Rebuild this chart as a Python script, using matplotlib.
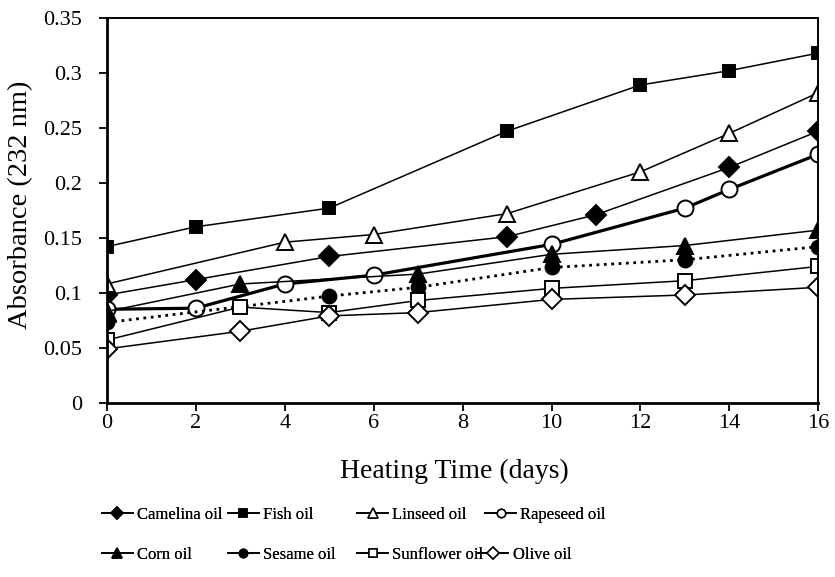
import matplotlib

matplotlib.use("Agg")
import matplotlib.pyplot as plt
from matplotlib.lines import Line2D
from matplotlib.ticker import FuncFormatter, MultipleLocator

# absorbance at 232 nm per oil, sampled on different heating days
camelina_days = [0, 2, 5, 9, 11, 14, 16]
camelina_abs = [0.098, 0.112, 0.133, 0.151, 0.171, 0.214, 0.247]

fish_days = [0, 2, 5, 9, 12, 14, 16]
fish_abs = [0.142, 0.160, 0.177, 0.247, 0.289, 0.302, 0.318]

linseed_days = [0, 4, 6, 9, 12, 14, 16]
linseed_abs = [0.108, 0.146, 0.153, 0.172, 0.210, 0.245, 0.282]

rapeseed_days = [0, 2, 4, 6, 10, 13, 14, 16]
rapeseed_abs = [0.085, 0.086, 0.108, 0.116, 0.144, 0.177, 0.194, 0.226]

corn_days = [0, 3, 7, 10, 13, 16]
corn_abs = [0.083, 0.108, 0.117, 0.135, 0.143, 0.157]

sesame_days = [0, 5, 7, 10, 13, 16]
sesame_abs = [0.073, 0.097, 0.105, 0.123, 0.130, 0.142]

sunflower_days = [0, 3, 5, 7, 10, 13, 16]
sunflower_abs = [0.057, 0.087, 0.082, 0.093, 0.104, 0.111, 0.124]

olive_days = [0, 3, 5, 7, 10, 13, 16]
olive_abs = [0.049, 0.065, 0.079, 0.082, 0.094, 0.098, 0.105]

plt.rcParams["font.family"] = ["Liberation Serif", "DejaVu Serif"]

fig = plt.figure(figsize=(8.35, 5.77), dpi=100)
ax = fig.add_axes([0.128, 0.302, 0.852, 0.667])

# (label, days, values, marker, fill, size, linestyle, linewidth)
series = [
    ("Camelina oil", camelina_days, camelina_abs, "D", "black", 10, "-", 1.1),
    ("Fish oil", fish_days, fish_abs, "s", "black", 8.5, "-", 1.1),
    ("Linseed oil", linseed_days, linseed_abs, "^", "white", 12, "-", 1.1),
    ("Rapeseed oil", rapeseed_days, rapeseed_abs, "o", "white", 11.5, "-", 2.3),
    ("Corn oil", corn_days, corn_abs, "^", "black", 11, "-", 1.1),
    ("Sesame oil", sesame_days, sesame_abs, "o", "black", 10, ":", 2.0),
    ("Sunflower oil", sunflower_days, sunflower_abs, "s", "white", 9.5, "-", 1.1),
    ("Olive oil", olive_days, olive_abs, "D", "white", 10, "-", 1.1),
]

for label, days, vals, mk, fc, ms, ls, lw in series:
    ax.plot(days, vals, color="black", linestyle=ls, linewidth=lw,
            marker=mk, markersize=ms, markerfacecolor=fc,
            markeredgecolor="black", markeredgewidth=1.4)

ax.set_xlim(0, 16)
ax.set_ylim(0, 0.35)
ax.xaxis.set_major_locator(MultipleLocator(2))
ax.yaxis.set_major_locator(MultipleLocator(0.05))
ax.yaxis.set_major_formatter(FuncFormatter(lambda v, _: f"{v:g}"))
ax.tick_params(direction="out", length=6, width=1.3, labelsize=16)
ax.tick_params(axis="x", pad=2)
ax.tick_params(axis="y", pad=12)
for side in ["left", "bottom"]:
    ax.spines[side].set_linewidth(2.0)
for side in ["top", "right"]:
    ax.spines[side].set_linewidth(1.4)

ax.set_xlabel("Heating Time (days)", fontsize=20)
ax.set_ylabel("Absorbance (232 nm)", fontsize=20.5)
ax.xaxis.set_label_coords(0.488, -0.145)
ax.yaxis.set_label_coords(-0.104, 0.515)

# legend entries placed one by one on a two-row grid
handles = {}
for label, days, vals, mk, fc, ms, ls, lw in series:
    handles[label] = Line2D([], [], color="black", linewidth=1.2, marker=mk,
                            markersize=6 if mk != "^" else 7,
                            markerfacecolor=fc, markeredgecolor="black",
                            markeredgewidth=1.1)
legend_rows = [
    (0.121, [("Camelina oil", 0.122), ("Fish oil", 0.273),
             ("Linseed oil", 0.428), ("Rapeseed oil", 0.581)]),
    (0.052, [("Corn oil", 0.122), ("Sesame oil", 0.273),
             ("Sunflower oil", 0.428), ("Olive oil", 0.572)]),
]
for y0, entries in legend_rows:
    for name, x0 in entries:
        leg = fig.legend([handles[name]], [name], frameon=False,
                         loc="upper left", bbox_to_anchor=(x0, y0),
                         fontsize=12, handlelength=1.85, handletextpad=0.25,
                         borderaxespad=0, borderpad=0)
        fig.add_artist(leg)

fig.savefig("out.png", dpi=100)
